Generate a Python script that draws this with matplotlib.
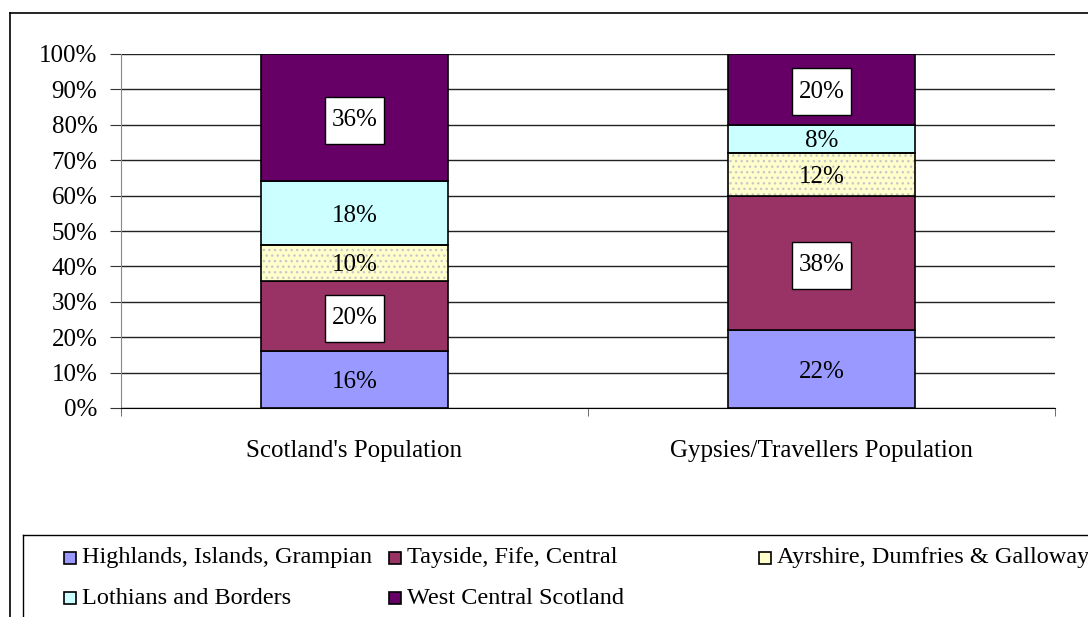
import matplotlib
matplotlib.use("Agg")
import matplotlib.pyplot as plt
from matplotlib.patches import Rectangle
from matplotlib.path import Path
import matplotlib.ticker as mtick

# ── data ────────────────────────────────────────────────
categories = ["Scotland's Population", "Gypsies/Travellers Population"]
series = [
    "Highlands, Islands, Grampian",
    "Tayside, Fife, Central",
    "Ayrshire, Dumfries & Galloway",
    "Lothians and Borders",
    "West Central Scotland",
]
highlands = [16, 22]
tayside = [20, 38]
ayrshire = [10, 12]
lothians = [18, 8]
west_central = [36, 20]

values = [highlands, tayside, ayrshire, lothians, west_central]
colors = ["#9999FF", "#993366", "#FFFFCC", "#CCFFFF", "#660066"]
boxed = [False, True, False, False, True]   # white label boxes on dark segments

plt.rcParams["font.family"] = ["Liberation Serif", "DejaVu Serif"]


def tall_box(x0, y0, width, height, mutation_size):
    # Excel-style label box: little side padding, more top/bottom padding
    px, py = 0.26 * mutation_size, 0.5 * mutation_size
    x0, y0 = x0 - px, y0 - py
    x1, y1 = x0 + width + 2 * px, y0 + height + 2 * py
    return Path([(x0, y0), (x1, y0), (x1, y1), (x0, y1), (x0, y0)], closed=True)


W, H = 1088, 617
fig = plt.figure(figsize=(W / 100, H / 100), dpi=100)
fx = lambda px: px / W
fy = lambda py: 1 - py / H

ax = fig.add_axes([fx(121), fy(408), fx(1055) - fx(121), fy(54) - fy(408)])

x = [0, 1]
bottom = [0, 0]
for name, vals, col, box in zip(series, values, colors, boxed):
    if name.startswith("Ayrshire"):
        ax.bar(x, vals, 0.4, bottom=bottom, color=col, edgecolor="#c8c8c8",
               linewidth=0, hatch="...", zorder=3)
        ax.bar(x, vals, 0.4, bottom=bottom, fill=False, edgecolor="black",
               linewidth=1.2, zorder=4)
    else:
        ax.bar(x, vals, 0.4, bottom=bottom, color=col, edgecolor="black",
               linewidth=1.2, zorder=3)
    for xi, v, b in zip(x, vals, bottom):
        kw = {}
        if box:
            kw["bbox"] = dict(boxstyle=tall_box, fc="white", ec="black", lw=1)
        ax.text(xi, b + v / 2, f"{v}%", ha="center", va="center_baseline",
                fontsize=18, zorder=5, **kw)
    bottom = [b + v for b, v in zip(bottom, vals)]

ax.set_xlim(-0.5, 1.5)
ax.set_ylim(0, 100)
ax.yaxis.set_major_locator(mtick.MultipleLocator(10))
ax.yaxis.set_major_formatter(mtick.PercentFormatter(decimals=0))
ax.grid(axis="y", color="#222222", linewidth=1, zorder=0)

ax.set_xticks(x)
ax.set_xticklabels(categories, fontsize=18)
ax.set_xticks([-0.5, 0.5, 1.5], minor=True)
ax.tick_params(axis="x", which="major", length=0, pad=23)
ax.tick_params(axis="x", which="minor", length=6, color="#555555")
ax.tick_params(axis="y", length=8, pad=9, labelsize=18, color="#333333")

for s in ["top", "right"]:
    ax.spines[s].set_visible(False)
ax.spines["left"].set_color("#888888")
ax.spines["bottom"].set_color("black")
ax.set_axisbelow(True)

# outer chart frame (cut off at right and bottom)
fig.add_artist(plt.Line2D([fx(10), 1], [fy(13), fy(13)], color="black", lw=1.2))
fig.add_artist(plt.Line2D([fx(10), fx(10)], [fy(13), 0], color="black", lw=1.2))

# legend box, drawn by hand to mimic the clipped layout
fig.add_artist(plt.Line2D([fx(23), 1], [fy(535), fy(535)], color="black", lw=1))
fig.add_artist(plt.Line2D([fx(23), fx(23)], [fy(535), 0], color="black", lw=1))

col_x = [70, 395, 765]
row_y = [558, 598]
for i, (name, col) in enumerate(zip(series, colors)):
    px, py = col_x[i % 3], row_y[i // 3]
    fig.add_artist(Rectangle((fx(px - 6), fy(py + 6)), 12 / W, 12 / H,
                             transform=fig.transFigure, facecolor=col,
                             edgecolor="black", lw=1.2))
    fig.text(fx(px + 12), fy(py), name, ha="left", va="center", fontsize=17.5)

fig.savefig("out.png", dpi=100)
